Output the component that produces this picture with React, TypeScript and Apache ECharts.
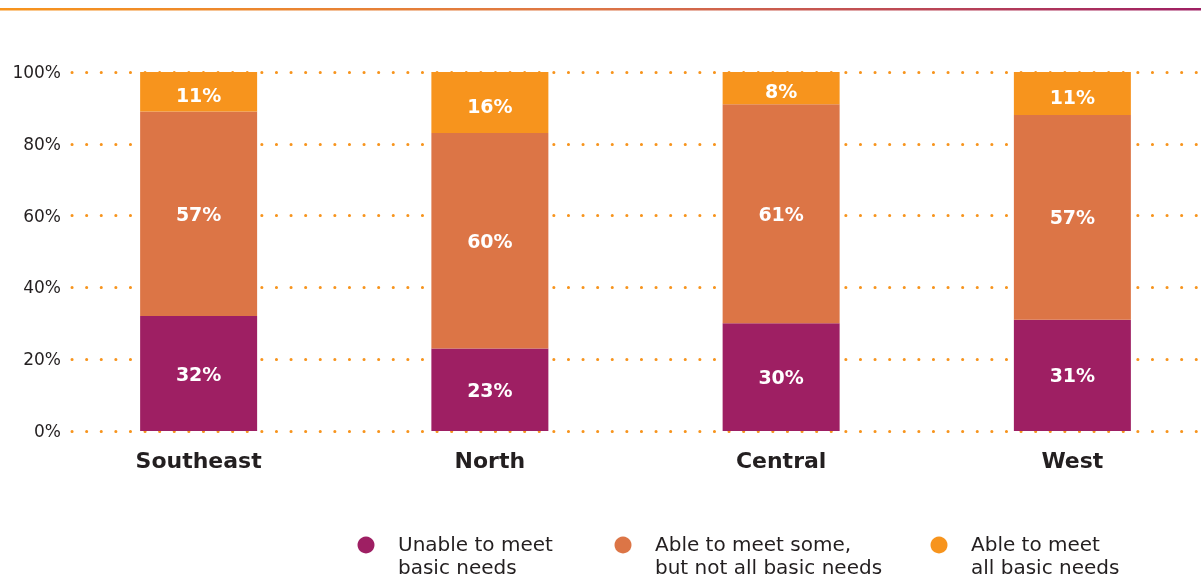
import React, { useEffect, useRef } from "react";
import * as echarts from "echarts";

const categories = ["Southeast", "North", "Central", "West"];
const unable = [32, 23, 30, 31];
const someNeeds = [57, 60, 61, 57];
const allNeedsLabel = [11, 16, 8, 11];
const seriesNames = ["Unable to meet\nbasic needs", "Able to meet some,\nbut not all basic needs", "Able to meet\nall basic needs"];
const colors = ["#9e1f63", "#dc7546", "#f7941d"];
const yTicks = [0, 20, 40, 60, 80, 100];

export default function App() {
  const ref = useRef<HTMLDivElement>(null);
  useEffect(() => {
    if (!ref.current) return;
    document.body.style.overflow = "hidden";
    const chart = echarts.init(ref.current, null, { renderer: "svg" });
    // bars reach 100% in the chart; the top segment fills the remainder
    const allNeedsDrawn = unable.map((u, i) => 100 - u - someNeeds[i]);
    const labelFont = { color: "#ffffff", fontFamily: "DejaVu Sans", fontWeight: "bold" as any, fontSize: 19 };
    const mkSeries = (name: string, data: number[], color: string, labels: number[], dy: number) => ({
      name,
      type: "bar",
      stack: "total",
      xAxisIndex: 0,
      yAxisIndex: 0,
      barWidth: 117,
      data,
      itemStyle: { color },
      label: {
        show: true,
        position: "inside",
        offset: [0, dy],
        ...labelFont,
        formatter: (p: any) => labels[p.dataIndex] + "%",
      },
    });
    const legendX = [366, 623, 939];
    const legendGraphics: any[] = [];
    seriesNames.forEach((n, i) => {
      legendGraphics.push({
        type: "circle",
        shape: { cx: legendX[i], cy: 545, r: 8.5 },
        style: { fill: colors[i] },
      });
      n.split("\n").forEach((line, j) => {
        legendGraphics.push({
          type: "text",
          x: legendX[i] + 32,
          y: 544 + j * 23,
          style: {
            text: line,
            fill: "#231f20",
            font: '20px "DejaVu Sans"',
            textVerticalAlign: "middle",
          },
        });
      });
    });
    chart.setOption({
      animation: false,
      grid: [
        { left: 53, width: 1165, top: 72, height: 359 },
        { left: 72, width: 1129, top: 72, height: 359 },
      ],
      xAxis: [
        {
          type: "category",
          gridIndex: 0,
          data: categories,
          axisLine: { show: false },
          axisTick: { show: false },
          axisLabel: {
            margin: 18,
            color: "#231f20",
            fontFamily: "DejaVu Sans",
            fontWeight: "bold",
            fontSize: 22,
          },
        },
        { type: "value", gridIndex: 1, show: false, min: 0, max: 1 },
      ],
      yAxis: [
        { type: "value", gridIndex: 0, min: 0, max: 100, show: false },
        {
          type: "value",
          gridIndex: 1,
          min: 0,
          max: 100,
          interval: 20,
          axisLine: { show: false },
          axisTick: { show: false },
          axisLabel: {
            margin: 11,
            color: "#231f20",
            fontFamily: "DejaVu Sans",
            fontSize: 17,
            formatter: (v: number) => (yTicks.includes(v) ? v + "%" : ""),
          },
          splitLine: {
            show: true,
            lineStyle: { color: "#f7941d", width: 3, type: [0.1, 14.5], cap: "round" },
          },
        },
      ],
      graphic: [
        {
          type: "rect",
          shape: { x: 0, y: 8, width: 1201, height: 2.5 },
          style: {
            fill: new echarts.graphic.LinearGradient(0, 0, 1, 0, [
              { offset: 0, color: "#f7941d" },
              { offset: 0.5, color: "#dc7546" },
              { offset: 1, color: "#9e1f63" },
            ]),
          },
        },
        ...legendGraphics,
      ],
      series: [
        mkSeries(seriesNames[0], unable, colors[0], unable, 0),
        mkSeries(seriesNames[1], someNeeds, colors[1], someNeeds, 0),
        mkSeries(seriesNames[2], allNeedsDrawn, colors[2], allNeedsLabel, 3),
      ],
    });
    return () => chart.dispose();
  }, []);
  return <div ref={ref} style={{ width: 1220, height: 579, position: "fixed", left: 0, top: 0 }} />;
}
